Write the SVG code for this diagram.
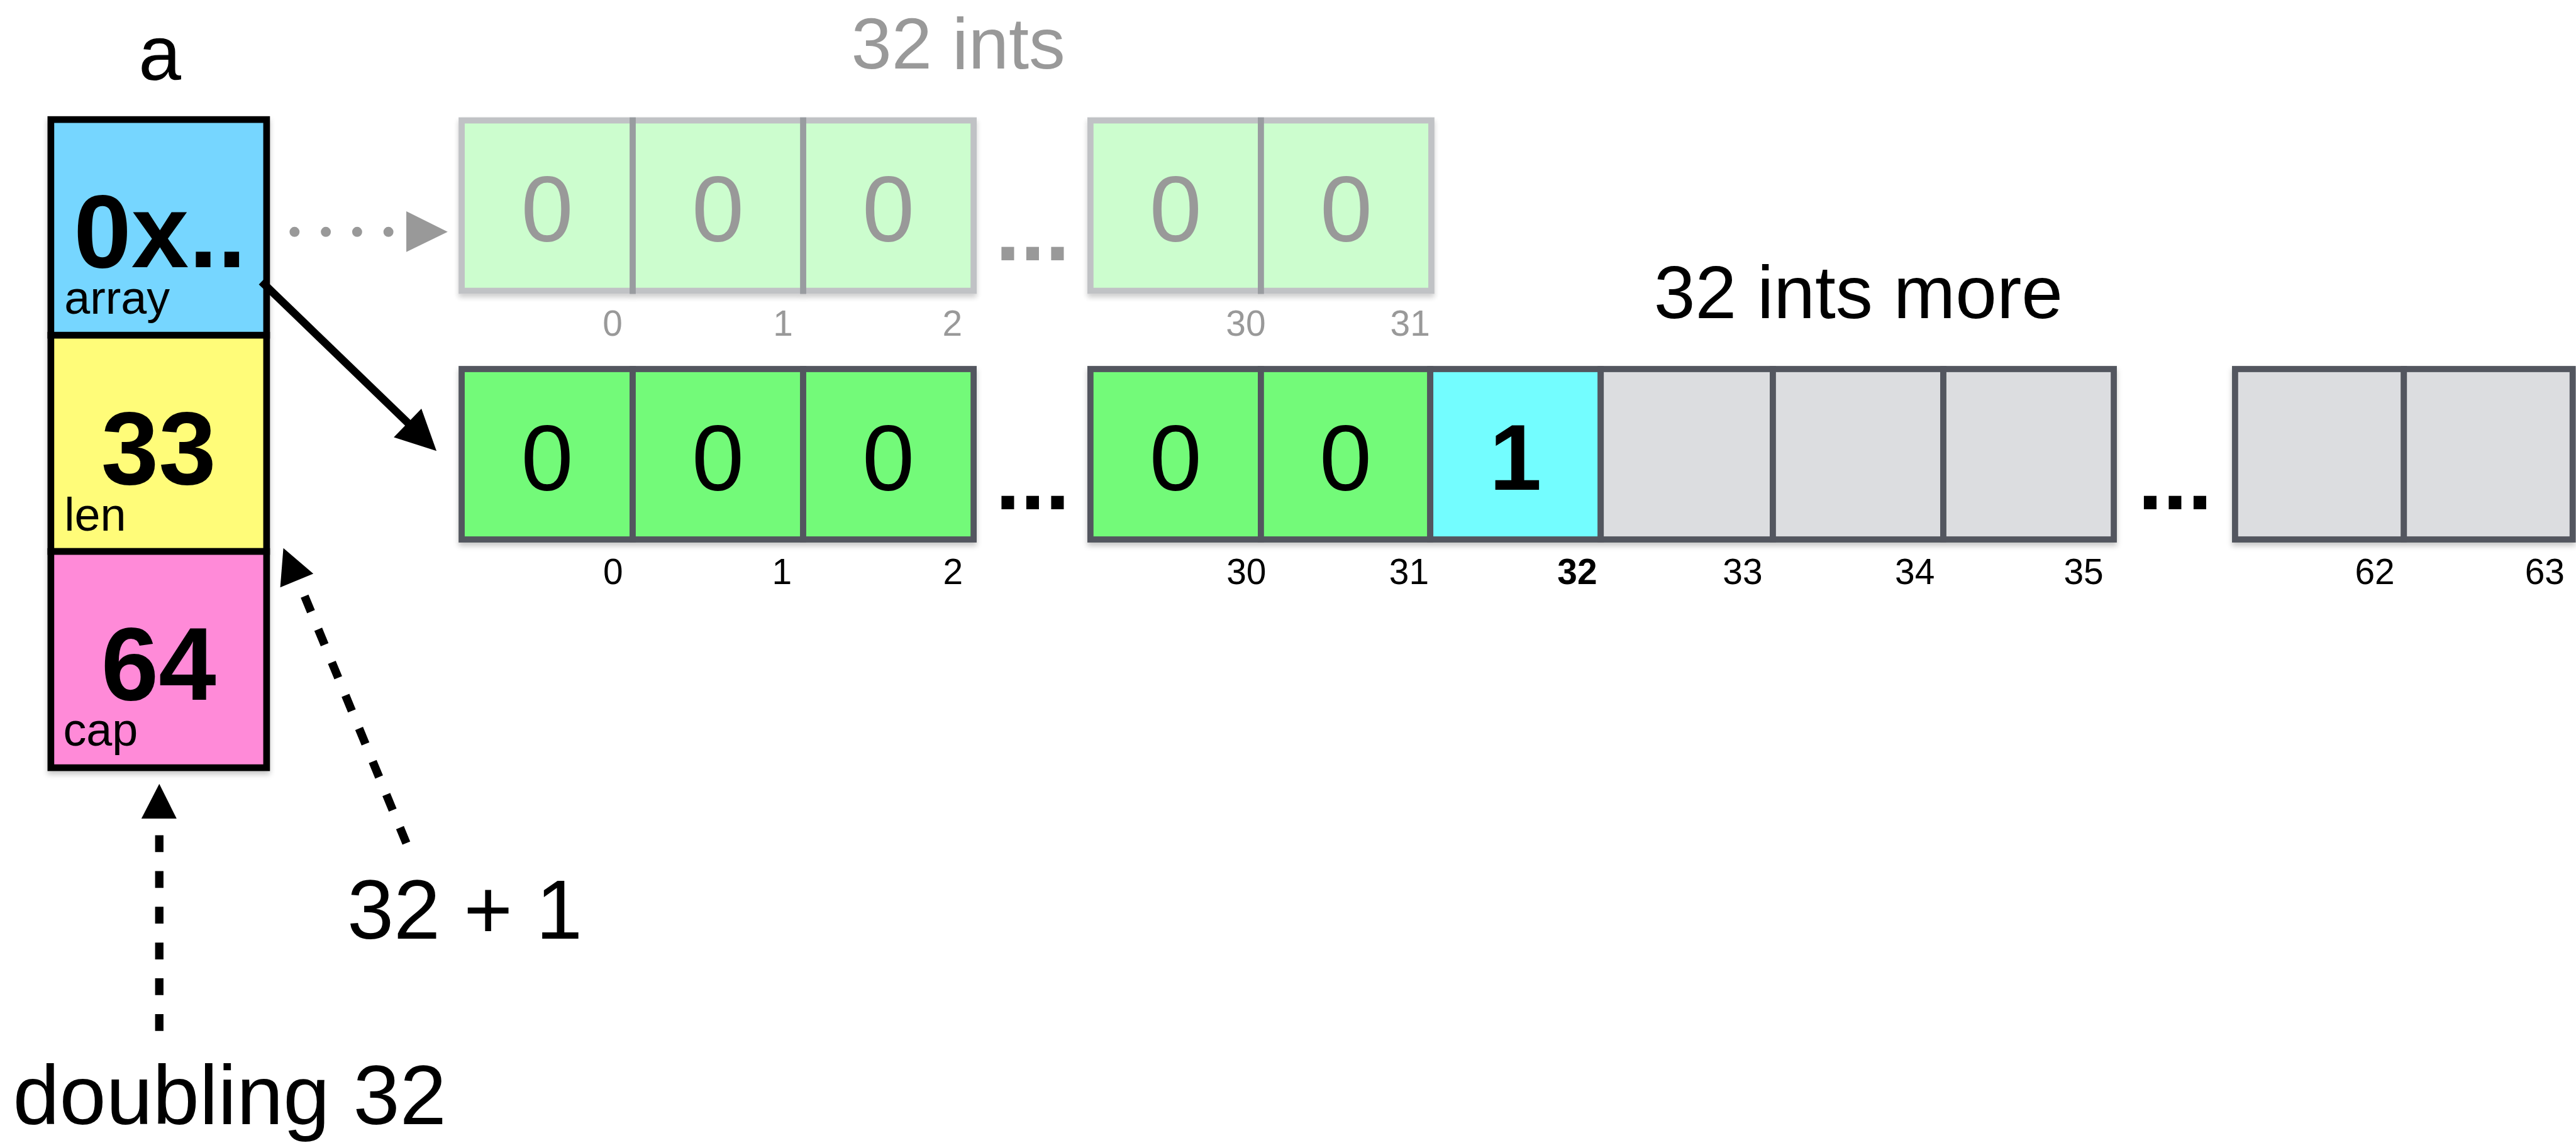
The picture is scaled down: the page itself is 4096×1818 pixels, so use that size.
<svg xmlns="http://www.w3.org/2000/svg" width="4096" height="1818" viewBox="0 0 4096 1818">
<style>
text{font-family:"Liberation Sans",Arial,Helvetica,sans-serif;fill:#000}
.cell{stroke:#53575e;stroke-width:11}
.g{fill:#73fa79}
.c{fill:#73fdff}
.e{fill:#dcdde0}
.gh{fill:#c7fdc9;stroke:#babcbf;stroke-width:11}
.ghdiv{stroke:#8f9296;stroke-width:11}
.sf{stroke:#000;stroke-width:12}
.big{font-size:168px;text-anchor:middle}
.idx{font-size:64px;text-anchor:middle}
.val{font-size:185px;font-weight:bold}
.fld{font-size:83px;font-weight:normal}
.lbl{font-size:150px}
.grey{fill:#999}
.dots{font-size:160px;font-weight:bold}
</style>
<defs>
<filter id="sh" x="-5%" y="-5%" width="110%" height="120%">
<feDropShadow dx="0" dy="6" stdDeviation="5" flood-color="#000" flood-opacity="0.22"/>
</filter>
</defs>
<rect width="4096" height="1818" fill="#fff"/>
<g transform="scale(0.8887)">

<g id="label-a"><text x="286" y="143" font-size="137" text-anchor="middle">a</text></g>

<g id="slice-header" filter="url(#sh)">
<rect class="sf" x="91" y="214" width="386" height="386" fill="#76d6ff"/>
<rect class="sf" x="91" y="600" width="386" height="387" fill="#fffc79"/>
<rect class="sf" x="91" y="987" width="386" height="387" fill="#ff8ad8"/>
</g>
<g id="field-array"><text class="val"><tspan x="132" y="478">0x..</tspan><tspan class="fld" x="115" y="562">array</tspan></text></g>
<g id="field-len"><text class="val"><tspan x="181" y="866">33</tspan><tspan class="fld" x="115" y="950">len</tspan></text></g>
<g id="field-cap"><text class="val"><tspan x="181" y="1252">64</tspan><tspan class="fld" x="113" y="1334">cap</tspan></text></g>

<g id="old-array">
<text x="1523" y="123" font-size="130" class="grey">32 ints</text>
<g filter="url(#sh)" opacity="0.9">
<rect class="gh" x="826" y="215.5" width="916" height="305"/>
<line class="ghdiv" x1="1132" y1="210" x2="1132" y2="526"/>
<line class="ghdiv" x1="1437" y1="210" x2="1437" y2="526"/>
<rect class="gh" x="1951" y="215.5" width="610" height="305"/>
<line class="ghdiv" x1="2256" y1="210" x2="2256" y2="526"/>
</g>
<text class="big grey" x="979" y="432">0</text>
<text class="big grey" x="1284.5" y="432">0</text>
<text class="big grey" x="1589.5" y="432">0</text>
<text class="big grey" x="2103.5" y="432">0</text>
<text class="big grey" x="2408.5" y="432">0</text>
<text class="dots grey" x="1781" y="466">...</text>
<text class="idx grey" x="1096" y="601">0</text>
<text class="idx grey" x="1401" y="601">1</text>
<text class="idx grey" x="1704" y="601">2</text>
<text class="idx grey" x="2229" y="601">30</text>
<text class="idx grey" x="2523" y="601">31</text>
</g>

<g id="new-array">
<text x="2959" y="569" font-size="133">32 ints more</text>
<g filter="url(#sh)">
<rect class="cell g" x="826" y="660.5" width="306" height="305"/>
<rect class="cell g" x="1132" y="660.5" width="305" height="305"/>
<rect class="cell g" x="1437" y="660.5" width="305" height="305"/>
</g>
<g filter="url(#sh)">
<rect class="cell g" x="1951" y="660.5" width="305" height="305"/>
<rect class="cell g" x="2256" y="660.5" width="303" height="305"/>
<rect class="cell c" x="2559" y="660.5" width="305" height="305"/>
<rect class="cell e" x="2864" y="660.5" width="308" height="305"/>
<rect class="cell e" x="3172" y="660.5" width="305" height="305"/>
<rect class="cell e" x="3477" y="660.5" width="305" height="305"/>
</g>
<g filter="url(#sh)">
<rect class="cell e" x="3999" y="660.5" width="302" height="305"/>
<rect class="cell e" x="4301" y="660.5" width="302" height="305"/>
</g>
<text class="big" x="979" y="878">0</text>
<text class="big" x="1284.5" y="878">0</text>
<text class="big" x="1589.5" y="878">0</text>
<text class="big" x="2103.5" y="878">0</text>
<text class="big" x="2407.5" y="878">0</text>
<text class="big" x="2711.5" y="877" font-weight="bold">1</text>
<text class="dots" x="1781" y="912">...</text>
<text class="dots" x="3825" y="911">...</text>
<text class="idx" x="1097" y="1045">0</text>
<text class="idx" x="1399" y="1045">1</text>
<text class="idx" x="1705" y="1045">2</text>
<text class="idx" x="2230" y="1045">30</text>
<text class="idx" x="2521" y="1045">31</text>
<text class="idx" x="2822" y="1045" font-weight="bold">32</text>
<text class="idx" x="3118" y="1045">33</text>
<text class="idx" x="3426" y="1045">34</text>
<text class="idx" x="3728" y="1045">35</text>
<text class="idx" x="4249" y="1045">62</text>
<text class="idx" x="4553" y="1045">63</text>
</g>

<g id="connectors">
<path d="M527 415 H700" fill="none" stroke="#999" stroke-width="18" stroke-linecap="round" stroke-dasharray="0 56"/>
<polygon points="801,415 727,378 727,451" fill="#999"/>
<line x1="468" y1="504" x2="732" y2="759" stroke="#000" stroke-width="14"/>
<polygon points="781,807 704.6,782.5 754,731.5" fill="#000"/>
<path d="M727 1509 L545 1067" fill="none" stroke="#000" stroke-width="15" stroke-dasharray="30 34"/>
<polygon points="507,981 560.6,1026.8 501.4,1051.2" fill="#000"/>
<path d="M285 1495 V1845" fill="none" stroke="#000" stroke-width="15" stroke-dasharray="30 34"/>
<polygon points="285,1403 316,1465 253,1465" fill="#000"/>
</g>

<g id="annotations">
<text class="lbl" x="621" y="1680">32 + 1</text>
<text class="lbl" x="23" y="2012" font-size="156">doubling 32</text>
</g>
</g>
</svg>
